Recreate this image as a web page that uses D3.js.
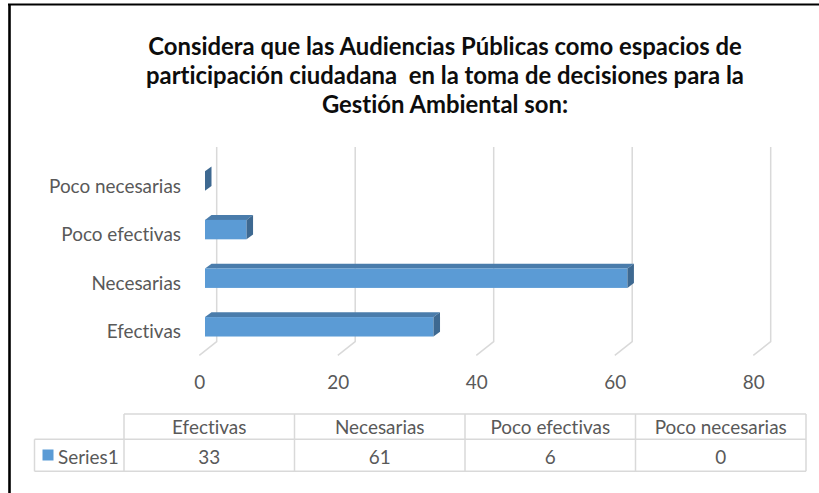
<!DOCTYPE html>
<html>
<head>
<meta charset="utf-8">
<script src="https://cdn.jsdelivr.net/npm/d3@7/dist/d3.min.js"></script>
<style>
  html, body { margin: 0; padding: 0; background: #fff; }
  svg { display: block; }
  text { font-family: Lato, "Open Sans", sans-serif; white-space: pre; font-variant-ligatures: none; font-feature-settings: "liga" 0, "dlig" 0; }
</style>
</head>
<body>
<svg id="chart" width="819" height="493"></svg>
<script>
// ---- data ----
const categories = ["Efectivas", "Necesarias", "Poco efectivas", "Poco necesarias"];
const values = [33, 61, 6, 0];
const seriesName = "Series1";
const xTicks = [0, 20, 40, 60, 80];
const titleLines = [
  "Considera que las Audiencias Públicas como espacios de",
  "participación ciudadana  en la toma de decisiones para la",
  "Gestión Ambiental son:"
];

// ---- layout ----
const W = 819, H = 493;
const svg = d3.select("#chart");
const FONT = 'Lato, "Open Sans", sans-serif';
const labelColor = "#595959";
const gridColor = "#d9d9d9";

// frame
svg.append("line").attr("x1", 8).attr("x2", W).attr("y1", 4.5).attr("y2", 4.5)
  .attr("stroke", "#000").attr("stroke-width", 2);
svg.append("line").attr("x1", 9.5).attr("x2", 9.5).attr("y1", 4).attr("y2", H)
  .attr("stroke", "#000").attr("stroke-width", 2.6);

// fit helper: font size so that a reference string reaches target width
function fitSize(str, weight, target, base) {
  const t = svg.append("text").attr("font-family", FONT).attr("font-weight", weight)
    .attr("font-size", base).text(str);
  const w = t.node().getComputedTextLength();
  t.remove();
  return base * target / w;
}
const labelSize = fitSize("Poco necesarias", 400, 132, 20);
const titleSize = fitSize(titleLines[1], 700, 598, 20);

// title
const title = svg.append("g");
titleLines.forEach((l, i) => {
  title.append("text")
    .attr("x", 445).attr("y", 45 + i * 29)
    .attr("text-anchor", "middle").attr("dominant-baseline", "central")
    .attr("font-size", titleSize).attr("font-weight", 700)
    .attr("fill", "#0d0d0d")
    .text(l);
});

// scales
const xBack = d3.scaleLinear().domain([0, 80]).range([216.7, 770.7]);
const depth = { dx: -17.4, dy: 13.7 };               // back wall -> front floor
const xFront = d3.scaleLinear().domain([0, 80]).range([216.7 + depth.dx, 770.7 + depth.dx]);
const xBar = d3.scaleLinear().domain([0, 80]).range([205, 759]);
const barDepth = { dx: 6.5, dy: -4.8 };
const gridTop = 147, gridBottom = 341.7;

const y = d3.scaleBand()
  .domain(categories.slice().reverse())
  .range([156.7, 351.1])
  .paddingInner(0.6).paddingOuter(0.3);

// gridlines (back wall + floor)
const grid = svg.append("g");
xTicks.forEach(t => {
  grid.append("path")
    .attr("d", `M${xBack(t)},${gridTop} L${xBack(t)},${gridBottom} L${xFront(t)},${gridBottom + depth.dy}`)
    .attr("fill", "none").attr("stroke", gridColor).attr("stroke-width", 1.5);
});

// bars (3D)
const colFront = "#5b9bd5", colTop = "#4a7cab", colSide = "#3e6991";
const bars = svg.append("g");
categories.forEach((c, i) => {
  const v = values[i];
  const x0 = xBar(0), x1 = xBar(v);
  const yt = y(c), yb = y(c) + y.bandwidth();
  const dx = barDepth.dx, dy = barDepth.dy;
  bars.append("path")
    .attr("d", `M${x0},${yt} L${x0 + dx},${yt + dy} L${x1 + dx},${yt + dy} L${x1},${yt} Z`)
    .attr("fill", colTop);
  if (v > 0) {
    bars.append("rect").attr("x", x0).attr("y", yt)
      .attr("width", x1 - x0).attr("height", yb - yt).attr("fill", colFront);
  }
  bars.append("path")
    .attr("d", `M${x1},${yt} L${x1 + dx},${yt + dy} L${x1 + dx},${yb + dy} L${x1},${yb} Z`)
    .attr("fill", colSide);
});

// category axis
const yAxis = svg.append("g").attr("transform", "translate(181,4)")
  .call(d3.axisLeft(y).tickSize(0).tickPadding(0));
yAxis.select(".domain").remove();
yAxis.selectAll("text")
  .attr("font-family", FONT).attr("font-size", labelSize)
  .attr("fill", labelColor).attr("dy", null).attr("dominant-baseline", "central");

// value axis
const xAxis = svg.append("g").attr("transform", "translate(0,381.5)")
  .call(d3.axisBottom(xFront).tickValues(xTicks).tickSize(0).tickPadding(0));
xAxis.select(".domain").remove();
xAxis.selectAll("text")
  .attr("font-family", FONT).attr("font-size", labelSize)
  .attr("fill", labelColor).attr("dy", null).attr("y", 0).attr("dominant-baseline", "central");

// data table
const col = d3.scaleBand().domain(categories).range([124, 806]);
const tTop = 414, tMid = 439.3, tBot = 471.3, legLeft = 34.5;
const tbl = svg.append("g").attr("stroke", gridColor).attr("stroke-width", 1.5).attr("fill", "none");
tbl.append("line").attr("x1", col.range()[0]).attr("x2", col.range()[1]).attr("y1", tTop).attr("y2", tTop);
tbl.append("line").attr("x1", legLeft).attr("x2", col.range()[1]).attr("y1", tMid).attr("y2", tMid);
tbl.append("line").attr("x1", legLeft).attr("x2", col.range()[1]).attr("y1", tBot).attr("y2", tBot);
tbl.append("line").attr("x1", legLeft).attr("x2", legLeft).attr("y1", tMid).attr("y2", tBot);
categories.forEach(c => {
  tbl.append("line").attr("x1", col(c)).attr("x2", col(c)).attr("y1", tTop).attr("y2", tBot);
});
tbl.append("line").attr("x1", col.range()[1]).attr("x2", col.range()[1]).attr("y1", tTop).attr("y2", tBot);

const tt = svg.append("g").attr("font-family", FONT).attr("font-size", labelSize).attr("fill", labelColor);
categories.forEach((c, i) => {
  tt.append("text").attr("x", col(c) + col.bandwidth() / 2).attr("y", (tTop + tMid) / 2)
    .attr("text-anchor", "middle").attr("dominant-baseline", "central").text(c);
  tt.append("text").attr("x", col(c) + col.bandwidth() / 2).attr("y", (tMid + tBot) / 2 + 1)
    .attr("text-anchor", "middle").attr("dominant-baseline", "central").text(values[i]);
});
svg.append("rect").attr("x", 42.5).attr("y", 449.5).attr("width", 11).attr("height", 11).attr("fill", colFront);
tt.append("text").attr("x", 58).attr("y", (tMid + tBot) / 2 + 1)
  .attr("dominant-baseline", "central").text(seriesName);
</script>
</body>
</html>
